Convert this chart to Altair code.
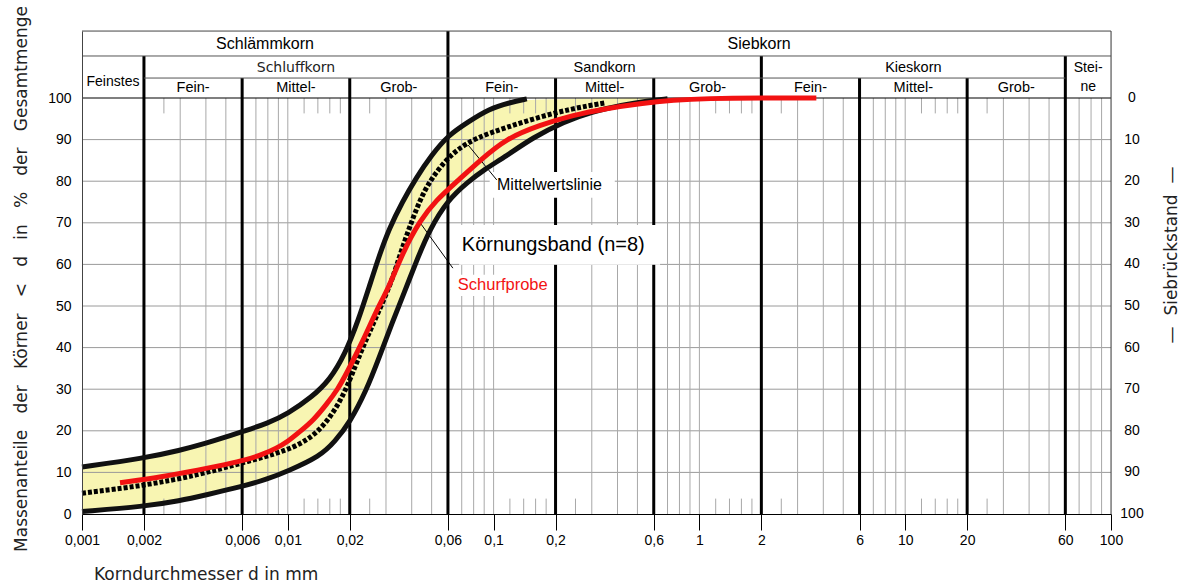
import altair as alt
import pandas as pd

# ---------------- data ----------------
# Körnungsband (n=8): upper and lower envelope
upper_d = [0.001, 0.002, 0.003, 0.004, 0.005, 0.006, 0.008, 0.01, 0.013, 0.016, 0.019, 0.022,
           0.025, 0.028, 0.031, 0.036, 0.042, 0.05, 0.06, 0.075, 0.095, 0.12, 0.145]
upper_p = [11.3, 13.4, 15.3, 17.0, 18.5, 19.8, 21.8, 24.1, 28.0, 32.2, 38.5, 46.5,
           55.0, 62.5, 68.5, 75.0, 80.8, 86.3, 91.0, 94.2, 97.4, 98.9, 99.8]
lower_d = [0.001, 0.002, 0.003, 0.004, 0.006, 0.008, 0.01, 0.0143, 0.017, 0.02, 0.024, 0.028,
           0.032, 0.037, 0.042, 0.049, 0.06, 0.075, 0.09, 0.115, 0.155, 0.22, 0.3, 0.42, 0.56, 0.7]
lower_p = [0.6, 1.8, 3.2, 4.6, 6.6, 8.4, 10.3, 13.8, 17.5, 22.0, 29.5, 38.0,
           45.8, 53.5, 60.6, 68.5, 75.5, 79.8, 82.8, 86.0, 90.5, 94.3, 96.7, 98.3, 99.3, 99.8]
band_close_d = [0.7]
band_close_p = [100.0]
# Mittelwertslinie
mean_d = [0.001, 0.002, 0.0037, 0.006, 0.01, 0.0133, 0.016, 0.0186, 0.0205, 0.0233, 0.027, 0.0314,
          0.0337, 0.0377, 0.0438, 0.049, 0.0568, 0.0659, 0.0826, 0.115, 0.168, 0.244, 0.345]
mean_p = [5.0, 6.8, 9.4, 12.3, 15.2, 18.6, 23.0, 28.5, 33.5, 40.5, 47.5, 55.0,
          59.5, 67.0, 75.5, 80.0, 84.3, 87.5, 90.5, 92.9, 95.5, 97.5, 98.8]
# Schurfprobe
probe_d = [0.00153, 0.0025, 0.0037, 0.005, 0.0063, 0.0076, 0.0088, 0.01, 0.0115, 0.0133, 0.0155,
           0.0175, 0.0193, 0.0233, 0.027, 0.031, 0.0363, 0.0438, 0.0527, 0.0659, 0.0859, 0.1153,
           0.1675, 0.2436, 0.3546, 0.5156, 0.75, 1.09, 2.0, 3.7]
probe_p = [7.5, 9.0, 10.6, 11.9, 13.0, 14.4, 15.8, 17.4, 19.9, 22.5, 26.5,
           30.0, 33.8, 41.8, 49.0, 54.5, 63.0, 70.5, 75.5, 79.8, 85.0, 90.3,
           93.5, 95.9, 97.5, 98.7, 99.5, 99.9, 100.0, 100.0]

# axes
x_ticks = [0.001, 0.002, 0.006, 0.01, 0.02, 0.06, 0.1, 0.2, 0.6, 1, 2, 6, 10, 20, 60, 100]
y_ticks = [0, 10, 20, 30, 40, 50, 60, 70, 80, 90, 100]
right_labels = [100, 90, 80, 70, 60, 50, 40, 30, 20, 10, 0]
h_grid = [10, 20, 30, 40, 50, 60, 70, 80, 90]
v_grid = [0.003, 0.004, 0.005, 0.007, 0.008, 0.009, 0.01, 0.03, 0.04, 0.05, 0.07, 0.08, 0.09, 0.1,
          0.3, 0.4, 0.5, 0.7, 0.8, 0.9, 1, 3, 4, 5, 7, 8, 9, 10, 30, 40, 50, 70, 80, 90]
short_ticks = [0.0025, 0.012, 0.014, 0.016, 0.018, 0.025, 0.12, 0.14, 0.16, 0.18, 0.25,
               1.2, 1.4, 1.6, 1.8, 2.5, 12, 14, 16, 18, 25]

# classification header (DIN 18123 style)
row1_names = ["Schlämmkorn", "Siebkorn"]
row1_bounds = [(0.001, 0.06), (0.06, 100)]
row2_names = ["Schluffkorn", "Sandkorn", "Kieskorn"]
row2_bounds = [(0.002, 0.06), (0.06, 2), (2, 60)]
row3_names = ["Fein-", "Mittel-", "Grob-"] * 3
row3_bounds = [(0.002, 0.006), (0.006, 0.02), (0.02, 0.06),
               (0.06, 0.2), (0.2, 0.6), (0.6, 2),
               (2, 6), (6, 20), (20, 60)]
bold_top = [0.06]
bold_mid = [0.002, 2, 60]
bold_low = [0.006, 0.02, 0.2, 0.6, 6, 20]

# ---------------- layout constants ----------------
W, H = 1029, 483
YMAX = 116.106          # 100 % lies 67 px below the top of the drawing area
ROW2 = 110.1            # header row boundaries in y-scale units
ROW3 = 104.8
TICK = 3.7
FONT = "Liberation Sans"
THIN = "DejaVu Sans"
YELLOW = "#F8F5B2"
RED = "#F21212"
CURVE = "basis"

xs = alt.Scale(type="log", domain=[0.001, 100], nice=False)
ys = alt.Scale(domain=[0, YMAX], nice=False, zero=False)
x_axis = alt.Axis(values=x_ticks, labelExpr="replace(format(datum.value, '~g'), '.', ',')",
                  tickSize=16, tickColor="black", domainColor="black", labelFont=FONT,
                  labelFontSize=14, labelColor="black", labelPadding=3, grid=False,
                  title=None, labelFlush=False, labelOverlap=False, zindex=2)
y_axis = alt.Axis(values=y_ticks, tickSize=0, labelPadding=11, domainColor="#444",
                  labelFont=FONT, labelFontSize=14, labelColor="black", grid=False,
                  title=None, zindex=2)


def X(f, **kw):
    return alt.X(f, type="quantitative", scale=xs, axis=x_axis, **kw)


def Y(f, **kw):
    return alt.Y(f, type="quantitative", scale=ys, axis=y_axis, **kw)


def geo(a, b):
    return (a * b) ** 0.5


# ---------------- layers ----------------
band_top = pd.DataFrame({"d": upper_d + band_close_d, "p": upper_p + band_close_p})
upper = pd.DataFrame({"d": upper_d, "p": upper_p})
lower = pd.DataFrame({"d": lower_d, "p": lower_p})
mean = pd.DataFrame({"d": mean_d, "p": mean_p})
probe = pd.DataFrame({"d": probe_d, "p": probe_p})

yellow = alt.Chart(band_top).mark_area(color=YELLOW, interpolate=CURVE).encode(
    x=X("d"), y=Y("p"), y2=alt.datum(0))
white = alt.Chart(lower).mark_area(color="white", interpolate=CURVE).encode(
    x=X("d"), y=Y("p"), y2=alt.datum(0))

hgrid = alt.Chart(pd.DataFrame({"p": h_grid})).mark_rule(color="#9a9a9a", strokeWidth=1).encode(
    x=alt.datum(0.001), x2=alt.datum(100), y=Y("p"))
vgrid = alt.Chart(pd.DataFrame({"d": v_grid})).mark_rule(color="#a8a8a8", strokeWidth=1).encode(
    x=X("d"), y=alt.datum(0), y2=alt.datum(100))
st_rows = [{"d": d, "y0": 0, "y1": TICK} for d in short_ticks] + \
          [{"d": d, "y0": 100 - TICK, "y1": 100} for d in short_ticks]
sticks = alt.Chart(pd.DataFrame(st_rows)).mark_rule(color="#a8a8a8", strokeWidth=1).encode(
    x=X("d"), y=Y("y0"), y2=alt.Y2("y1"))

bold_rows = [{"d": d, "top": YMAX} for d in bold_top] + \
            [{"d": d, "top": ROW2} for d in bold_mid] + \
            [{"d": d, "top": ROW3} for d in bold_low]
bold = alt.Chart(pd.DataFrame(bold_rows)).mark_rule(color="black", strokeWidth=3).encode(
    x=X("d"), y=Y("top"), y2=alt.datum(0))

hdr_lines = pd.DataFrame([
    {"x0": 0.001, "x1": 100, "y": YMAX},
    {"x0": 0.001, "x1": 100, "y": ROW2},
    {"x0": 0.002, "x1": 60, "y": ROW3},
])
hdr = alt.Chart(hdr_lines).mark_rule(color="#555", strokeWidth=1).encode(
    x=X("x0"), x2=alt.X2("x1"), y=Y("y"))
top_line = alt.Chart(pd.DataFrame({"p": [100]})).mark_rule(color="black", strokeWidth=1.2).encode(
    x=alt.datum(0.001), x2=alt.datum(100), y=Y("p"))
right_line = alt.Chart(pd.DataFrame({"d": [100]})).mark_rule(color="#444", strokeWidth=1).encode(
    x=X("d"), y=alt.datum(0), y2=alt.datum(YMAX))

boxes = pd.DataFrame([
    {"x0": 0.0957, "x1": 0.388, "y0": 76.0, "y1": 82.2},
    {"x0": 0.068, "x1": 0.644, "y0": 59.9, "y1": 69.5},
    {"x0": 0.0657, "x1": 0.195, "y0": 52.4, "y1": 57.5},
])
white_boxes = alt.Chart(boxes).mark_rect(color="white").encode(
    x=X("x0"), x2=alt.X2("x1"), y=Y("y0"), y2=alt.Y2("y1"))

leaders = pd.DataFrame([
    {"x0": 0.0752, "y0": 88.7, "x1": 0.1036, "y1": 80.3},
    {"x0": 0.0444, "y0": 69.7, "x1": 0.0634, "y1": 59.1},
])
leader = alt.Chart(leaders).mark_rule(color="black", strokeWidth=1).encode(
    x=X("x0"), y=Y("y0"), x2=alt.X2("x1"), y2=alt.Y2("y1"))

up_line = alt.Chart(upper).mark_line(color="#111", strokeWidth=5, interpolate=CURVE).encode(
    x=X("d"), y=Y("p"))
lo_line = alt.Chart(lower).mark_line(color="#111", strokeWidth=5, interpolate=CURVE).encode(
    x=X("d"), y=Y("p"))
mean_line = alt.Chart(mean).mark_line(color="black", strokeWidth=5, strokeDash=[4, 2],
                                      interpolate=CURVE).encode(x=X("d"), y=Y("p"))
probe_line = alt.Chart(probe).mark_line(color=RED, strokeWidth=5, interpolate=CURVE).encode(
    x=X("d"), y=Y("p"))

# header texts
r1 = pd.DataFrame({"t": row1_names, "d": [geo(*row1_bounds[0]), 1.95], "p": [113.0, 113.0]})
r1_text = alt.Chart(r1).mark_text(font=FONT, fontSize=16, color="black").encode(
    x=X("d"), y=Y("p"), text="t:N")
r2 = pd.DataFrame({"t": row2_names[1:], "d": [geo(*b) for b in row2_bounds[1:]], "p": [107.2, 107.2]})
r2_text = alt.Chart(r2).mark_text(font=FONT, fontSize=14.5, color="black").encode(
    x=X("d"), y=Y("p"), text="t:N")
schluff = alt.Chart(pd.DataFrame({"t": [row2_names[0]], "d": [geo(*row2_bounds[0])], "p": [107.2]})).mark_text(
    font=THIN, fontSize=14, color="#222").encode(x=X("d"), y=Y("p"), text="t:N")
r3 = pd.DataFrame({"t": row3_names, "d": [geo(*b) for b in row3_bounds], "p": [102.4] * 9})
r3_text = alt.Chart(r3).mark_text(font=FONT, fontSize=14.5, color="black").encode(
    x=X("d"), y=Y("p"), text="t:N")
side = pd.DataFrame({"t": ["Feinstes", "Stei-", "ne"], "d": [geo(0.001, 0.002), geo(60, 100), geo(60, 100)],
                     "p": [103.85, 107.2, 102.6]})
side_text = alt.Chart(side).mark_text(font=FONT, fontSize=14, color="black").encode(
    x=X("d"), y=Y("p"), text="t:N")

ann_mean = alt.Chart(pd.DataFrame({"t": ["Mittelwertslinie"], "d": [0.1039], "p": [79.1]})).mark_text(
    font=FONT, fontSize=16, align="left", baseline="middle", color="black").encode(
    x=X("d"), y=Y("p"), text="t:N")
ann_band = alt.Chart(pd.DataFrame({"t": ["Körnungsband (n=8)"], "d": [0.0701], "p": [64.7]})).mark_text(
    font=FONT, fontSize=20, align="left", baseline="middle", color="black").encode(
    x=X("d"), y=Y("p"), text="t:N")
ann_probe = alt.Chart(pd.DataFrame({"t": ["Schurfprobe"], "d": [0.0670], "p": [55.0]})).mark_text(
    font=FONT, fontSize=16.5, align="left", baseline="middle", color=RED).encode(
    x=X("d"), y=Y("p"), text="t:N")

right = pd.DataFrame({"p": y_ticks, "t": [str(v) for v in right_labels]})
right_text = alt.Chart(right).mark_text(font=FONT, fontSize=14, color="black", align="center",
                                        baseline="middle").encode(
    x=alt.value(W + 21), y=Y("p"), text="t:N")

NB = "\u00a0"
sp = NB * 3
left_title = alt.Chart(pd.DataFrame({"t": [sp.join(["Massenanteile", "der", "Körner", "<", "d", "in", "%",
                                                     "der", "Gesamtmenge"])]})).mark_text(
    font=THIN, fontSize=17, angle=270, color="#222", align="center",
    baseline="middle").encode(x=alt.value(-60), y=alt.value(248), text="t:N")
right_title = alt.Chart(pd.DataFrame({"t": ["—" + NB * 2 + "Siebrückstand" + NB * 2 + "—"]})).mark_text(
    font=THIN, fontSize=17, angle=270, color="#222", align="center",
    baseline="middle").encode(x=alt.value(W + 61), y=alt.value(224), text="t:N")
bottom_title = alt.Chart(pd.DataFrame({"t": ["Korndurchmesser d in mm"]})).mark_text(
    font=THIN, fontSize=17, color="#222", align="left", baseline="middle").encode(
    x=alt.value(12), y=alt.value(544), text="t:N")

chart = alt.layer(
    yellow, white, hgrid, vgrid, sticks, bold, hdr, top_line, right_line, white_boxes, leader,
    up_line, lo_line, mean_line, probe_line,
    r1_text, r2_text, schluff, r3_text, side_text, ann_mean, ann_band, ann_probe,
    right_text, left_title, right_title, bottom_title,
).properties(
    width=W, height=H,
    autosize=alt.AutoSizeParams(type="none"),
    padding={"left": 82, "top": 31, "right": 69, "bottom": 71},
).configure_view(stroke=None).configure(background="white")

chart.save("out.html", embed_options={"renderer": "svg", "actions": False})
